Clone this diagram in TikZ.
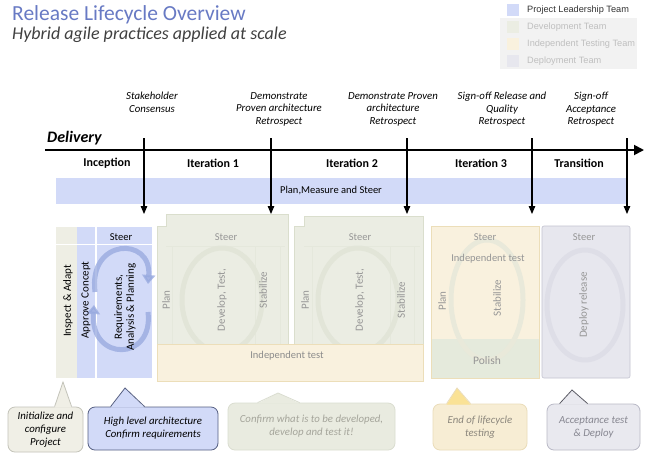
\documentclass[tikz,border=0pt]{standalone}
\usepackage{fontspec}
\setmainfont{Carlito}
\newfontfamily\legf{Liberation Sans}
\usetikzlibrary{arrows.meta,calc}
\definecolor{titleblue}{RGB}{104,122,196}
\definecolor{pblue}{RGB}{210,218,248}
\definecolor{strip}{RGB}{238,238,228}
\definecolor{grn}{RGB}{235,237,227}
\definecolor{grnb}{RGB}{218,222,205}
\definecolor{beige}{RGB}{249,241,222}
\definecolor{beigeb}{RGB}{236,222,185}
\definecolor{polishc}{RGB}{229,234,220}
\definecolor{lav}{RGB}{231,231,238}
\definecolor{lavb}{RGB}{195,195,208}
\definecolor{fadetext}{RGB}{150,150,150}
\definecolor{legbg}{RGB}{242,242,242}
\definecolor{cyccol}{RGB}{150,168,222}
\definecolor{cycgrn}{RGB}{226,229,216}
\definecolor{cyclav}{RGB}{222,222,231}
\definecolor{cAfill}{RGB}{240,239,230}
\definecolor{cAdraw}{RGB}{195,195,185}
\definecolor{cBdraw}{RGB}{85,95,130}
\definecolor{cCfill}{RGB}{233,235,224}
\definecolor{cCdraw}{RGB}{218,221,208}
\definecolor{cCtext}{RGB}{165,165,155}
\definecolor{cDfill}{RGB}{247,237,212}
\definecolor{cDdraw}{RGB}{234,220,185}
\definecolor{cDtext}{RGB}{140,135,125}
\definecolor{cDptr}{RGB}{250,226,150}
\definecolor{cEfill}{RGB}{233,233,239}
\definecolor{cEdraw}{RGB}{185,185,198}
\definecolor{cEtext}{RGB}{135,135,145}
\definecolor{cEptr}{RGB}{90,90,100}
\begin{document}
\begin{tikzpicture}[x=1pt,y=-1pt,
  ms/.style={font=\fontsize{10.8}{12.5}\selectfont\itshape, align=center, inner sep=0pt, anchor=north},
  phase/.style={font=\fontsize{12}{14}\selectfont\bfseries, inner sep=0pt},
  mile/.style={line width=1.1pt, -{Triangle[length=8pt,width=6.5pt]}},
  colhead/.style={font=\fontsize{10.5}{12}\selectfont, inner sep=0pt},
  vtext/.style={font=\fontsize{11}{13}\selectfont, rotate=90, inner sep=0pt, align=center},
  fade/.style={text=fadetext},
  callout/.style={rounded corners=7pt, align=center, font=\fontsize{10.8}{13}\selectfont\itshape, line width=0.8pt, inner sep=0pt},
  cyc/.style={line width=5pt, -{Triangle[length=9pt,width=13pt]}},
  legtext/.style={font=\legf\fontsize{9.2}{10}\selectfont, anchor=west, inner sep=0pt}
]
\useasboundingbox (0,0) rectangle (647,456);
\fill[white] (0,0) rectangle (647,456);

% title
\node[anchor=base west, inner sep=0pt, text=titleblue, font=\fontsize{21.5}{24}\selectfont] (title) at (12,20) {Release Lifecycle Overview};
\node[anchor=base west, inner sep=0pt, text=black!75, font=\fontsize{18}{20}\selectfont\itshape] (subtitle) at (12,39) {Hybrid agile practices applied at scale};

% legend
\fill[legbg] (500,18) rectangle (637,69);
\fill[pblue] (507,4) rectangle (519,16);
\fill[grn] (507,21) rectangle (519,33);
\fill[beige] (507,38) rectangle (519,50);
\fill[lav] (507,55) rectangle (519,67);
\node[legtext, text=black!80] (l1) at (527,10) {Project Leadership Team};
\node[legtext, text=black!25] (l2) at (527,27) {Development Team};
\node[legtext, text=black!25] (l3) at (527,44) {Independent Testing Team};
\node[legtext, text=black!25] (l4) at (527,61) {Deployment Team};

% milestone labels
\node[ms] (m1) at (152,92) {Stakeholder\\Consensus};
\node[ms] (m2) at (279,92) {Demonstrate\\Proven architecture\\Retrospect};
\node[ms] (m3) at (393,92) {Demonstrate Proven\\architecture\\Retrospect};
\node[ms] (m4) at (502,92) {Sign-off Release and\\Quality\\Retrospect};
\node[ms] (m5) at (591,92) {Sign-off\\Acceptance\\Retrospect};

% delivery
\node[anchor=base west, inner sep=0pt, font=\fontsize{16}{18}\selectfont\bfseries\itshape] (deliv) at (47,142) {Delivery};

% plan band
\fill[pblue] (56,178) rectangle (627,204);
\node[colhead] (pms) at (331,191) {Plan,Measure and Steer};

% axis
\coordinate (ax0) at (45,150);
\coordinate (ax1) at (644,150);
\draw[line width=1.8pt, -{Triangle[length=10pt,width=10pt]}] (ax0) -- (ax1);

% milestone arrows
\foreach \x/\n in {144/a,271/b,407/c,532/d,627/e}{
  \coordinate (t\n) at (\x,138);
  \coordinate (h\n) at (\x,214);
  \draw[mile] (t\n) -- (h\n);
}

% phases
\node[phase] (p0) at (107,163) {Inception};
\node[phase] (p1) at (213,163) {Iteration 1};
\node[phase] (p2) at (352,163) {Iteration 2};
\node[phase] (p3) at (481,163) {Iteration 3};
\node[phase] (p4) at (579,163) {Transition};

% ---------- lower section ----------
% Inception
\fill[strip] (56,227) rectangle (77,378);
\fill[pblue] (77,227) rectangle (95,378);
\fill[pblue] (97,227) rectangle (152,378);
\draw[white, line width=0.8pt] (56,244) -- (152,244);
\begin{scope}[opacity=0.75]
\draw[cyc, cyccol] (95,292) .. controls (88,238) and (152,236) .. (148,284);
\draw[cyc, cyccol] (148,312) .. controls (154,362) and (90,362) .. (94,305);
\end{scope}
\node[colhead] (s0) at (121,237) {Steer};
\node[vtext] (ia) at (68,301) {Inspect \& Adapt};
\node[vtext] (ac) at (86,300) {Approve Concept};
\node[vtext, font=\fontsize{11}{12}\selectfont] (req) at (125,307) {Requirements,\\Analysis \& Planning};

% Iteration 1
\draw[grnb, fill=grn, line width=0.6pt] (157,345) -- (157,226) -- (166,226) -- (166,214) -- (288,214) -- (288,345);
\draw[grnb!70, line width=0.5pt] (166,246) -- (285,246) (172,246) -- (172,345) (255,246) -- (255,345) (280,246) -- (280,345);
\draw[cycgrn, line width=5pt] (222,300) ellipse [x radius=40, y radius=52];
\node[colhead, fade] (s1) at (226,237) {Steer};
\node[vtext, fade] (pl1) at (166,300) {Plan};
\node[vtext, fade] (dt1) at (222,300) {Develop, Test,};
\node[vtext, fade] (st1) at (263,290) {Stabilize};

% Iteration 2
\draw[grnb, fill=grn, line width=0.6pt] (294,345) -- (294,226) -- (304,226) -- (304,216) -- (423,216) -- (423,345);
\draw[grnb!70, line width=0.5pt] (304,246) -- (420,246) (312,246) -- (312,345) (390,246) -- (390,345) (414,246) -- (414,345);
\draw[cycgrn, line width=5pt] (358,300) ellipse [x radius=40, y radius=52];
\node[colhead, fade] (s2) at (360,237) {Steer};
\node[vtext, fade] (pl2) at (305,300) {Plan};
\node[vtext, fade] (dt2) at (360,300) {Develop, Test,};
\node[vtext, fade] (st2) at (401,300) {Stabilize};

% Independent test band
\draw[beigeb, fill=beige, line width=0.6pt] (157,344) rectangle (423,381);
\node[colhead, text=black!45] (it) at (287,356) {Independent test};

% Iteration 3
\draw[beigeb, fill=beige, line width=0.6pt] (431,226) rectangle (539,339);
\fill[polishc] (431,339) rectangle (539,378);
\draw[beigeb, line width=0.6pt] (431,339) -- (431,378) -- (539,378) -- (539,339);
\draw[cycgrn!70!beige, line width=5pt] (487,300) ellipse [x radius=36, y radius=60];
\node[colhead, fade] (s3) at (485,237) {Steer};
\node[colhead, fade] (it3) at (488,259) {Independent test};
\node[vtext, fade] (pl3) at (442,301) {Plan};
\node[vtext, fade] (st3) at (497,298) {Stabilize};
\node[colhead, fade, font=\fontsize{11.5}{13}\selectfont] (po) at (487,361) {Polish};

% Transition
\draw[lavb, fill=lav, line width=0.6pt, rounded corners=2pt] (542,226) rectangle (630,378);
\draw[cyclav, line width=5pt] (585,305) ellipse [x radius=38, y radius=55];
\node[colhead, fade] (s4) at (584,237) {Steer};
\node[vtext, fade] (dr) at (584,305) {Deploy release};

% ---------- callouts ----------
\node[callout, draw=cAdraw, fill=cAfill, minimum width=75pt, minimum height=45pt] (c1) at (45.5,429.5) {Initialize and\\configure\\Project};
\coordinate (tip1) at (63,382);
\fill[cAfill] ($(c1.north west)+(47,1)$) -- (tip1) -- ($(c1.north west)+(64,1)$) -- cycle;
\draw[cAdraw, line width=0.8pt] ($(c1.north west)+(47,0)$) -- (tip1) -- ($(c1.north west)+(64,0)$);

\node[callout, draw=cBdraw, fill=pblue, minimum width=130pt, minimum height=43pt] (c2) at (153,428.5) {High level architecture\\Confirm requirements};
\coordinate (tip2) at (125,388);
\fill[pblue] ($(c2.north west)+(23,1)$) -- (tip2) -- ($(c2.north west)+(57,1)$) -- cycle;
\draw[cBdraw, line width=0.8pt] ($(c2.north west)+(23,0)$) -- (tip2) -- ($(c2.north west)+(57,0)$);

\node[callout, draw=cCdraw, fill=cCfill, text=cCtext, minimum width=167pt, minimum height=47pt] (c3) at (311.5,426.5) {Confirm what is to be developed,\\develop and test it!};
\coordinate (tip3) at (278,393);
\fill[cCfill] ($(c3.north west)+(30,1)$) -- (tip3) -- ($(c3.north west)+(72,1)$) -- cycle;
\draw[cCdraw, line width=0.8pt] ($(c3.north west)+(30,0)$) -- (tip3) -- ($(c3.north west)+(72,0)$);

\node[callout, draw=cDdraw, fill=cDfill, text=cDtext, minimum width=94pt, minimum height=46pt] (c4) at (480,427) {End of lifecycle\\testing};
\coordinate (tip4) at (457,388);
\fill[cDptr] ($(c4.north west)+(14,1)$) -- (tip4) -- ($(c4.north west)+(38,1)$) -- cycle;
\draw[cDdraw, line width=0.8pt] ($(c4.north west)+(14,0)$) -- (tip4) -- ($(c4.north west)+(38,0)$);

\node[callout, draw=cEdraw, fill=cEfill, text=cEtext, minimum width=93pt, minimum height=46pt] (c5) at (593.5,427) {Acceptance test\\\& Deploy};
\coordinate (tip5) at (572,390);
\fill[cEfill] ($(c5.north west)+(13,1)$) -- (tip5) -- ($(c5.north west)+(41,1)$) -- cycle;
\draw[cEptr, line width=0.8pt] ($(c5.north west)+(13,0)$) -- (tip5) -- ($(c5.north west)+(41,0)$);
\end{tikzpicture}
\end{document}
